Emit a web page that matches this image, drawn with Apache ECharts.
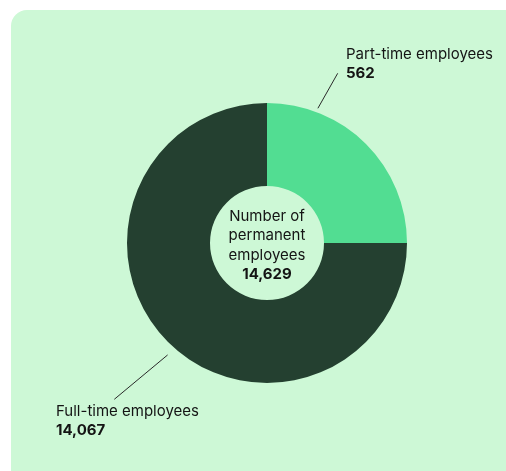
<!DOCTYPE html>
<html>
<head>
<meta charset="utf-8">
<script src="https://cdn.jsdelivr.net/npm/echarts@6/dist/echarts.min.js"></script>
<style>
  html, body { margin: 0; padding: 0; background: #fff; }
  #main { width: 506px; height: 471px; }
</style>
</head>
<body>
<div id="main"></div>
<script>
// data
const categories = ['Part-time employees', 'Full-time employees']
const employeeCounts = [562, 14067]
// the drawn slices are not to scale: part-time takes a quarter of the ring
const sliceShares = [25, 75]
const centerTitle = ['Number of', 'permanent', 'employees']

const colors = ['#52dd92', '#244030']
const textColor = '#141414'
const fontFamily = 'Inter, "Noto Sans", sans-serif'

const fmt = n => n.toLocaleString('en-US')
const total = employeeCounts.reduce((a, b) => a + b, 0)

const CENTER = [267, 243]
const RADIUS = [57, 140]

// where each label's top-left sits, and the small leader line beside it
const labelSpots = [
  { x: 346, y: 44.5, angle: 69.3, dist: 144, end: [-8.3, 28.8] },
  { x: 56, y: 402, angle: 228.4, dist: 149.7, end: [58.3, -2.7] },
]

function polar(angle, dist) {
  const a = angle * Math.PI / 180
  return [CENTER[0] + dist * Math.cos(a), CENTER[1] - dist * Math.sin(a)]
}

const myChart = echarts.init(document.getElementById('main'))

const option = {
  animation: false,
  textStyle: { fontFamily },
  graphic: [
    {
      type: 'rect',
      z: -10,
      silent: true,
      shape: { x: 11, y: 10, width: 520, height: 480, r: 16 },
      style: { fill: '#cdf8d6' },
    },
  ],
  title: {
    left: CENTER[0],
    top: 207,
    padding: 0,
    textAlign: 'center',
    text: centerTitle.join('\n') + '\n{b|' + fmt(total) + '}',
    textStyle: {
      fontFamily,
      fontSize: 15,
      fontWeight: 'normal',
      lineHeight: 19.2,
      color: textColor,
      rich: {
        b: { fontFamily, fontSize: 15, fontWeight: 'bold', lineHeight: 19.2, color: textColor },
      },
    },
  },
  series: [
    {
      type: 'pie',
      center: CENTER,
      radius: RADIUS,
      startAngle: 90,
      clockwise: true,
      avoidLabelOverlap: false,
      silent: true,
      itemStyle: { borderWidth: 0 },
      data: categories.map((name, i) => ({
        name,
        value: sliceShares[i],
        itemStyle: { color: colors[i] },
      })),
      label: {
        show: true,
        position: 'outside',
        formatter: p => '{n|' + p.name + '}\n{v|' + fmt(employeeCounts[p.dataIndex]) + '}',
        rich: {
          n: { fontFamily, fontSize: 15, lineHeight: 19, color: textColor },
          v: { fontFamily, fontSize: 15, lineHeight: 19, fontWeight: 'bold', color: textColor },
        },
      },
      labelLine: {
        show: true,
        length: 10,
        length2: 10,
        lineStyle: { color: '#2a2a2a', width: 1 },
      },
      labelLayout: params => {
        const s = labelSpots[params.dataIndex]
        return {
          x: s.x,
          y: s.y,
          align: 'left',
          verticalAlign: 'top',
          labelLinePoints: [
            polar(s.angle, s.dist),
            [s.x + s.end[0], s.y + s.end[1]],
          ],
        }
      },
    },
  ],
}

myChart.setOption(option)
</script>
</body>
</html>
